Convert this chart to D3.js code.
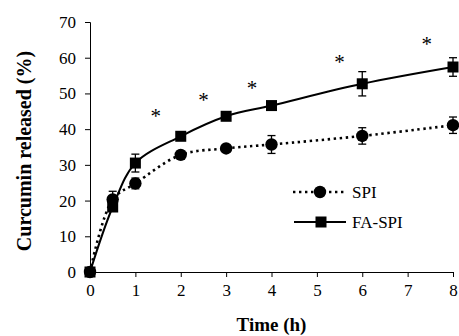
<!DOCTYPE html>
<html>
<head>
<meta charset="utf-8">
<script src="https://cdn.jsdelivr.net/npm/d3@7"></script>
<style>
    body { margin: 0; background: #fff; }
    svg text { font-family: "Liberation Serif", "Times New Roman", serif; fill: #000; }
</style>
</head>
<body>
<script>
// data
const times = [0, 0.5, 1, 2, 3, 4, 6, 8];
const spiValues = [0, 20.3, 24.8, 32.8, 34.6, 35.7, 38.1, 41.1];
const spiErrors = [0, 2.3, 1.5, 1, 1, 2.5, 2.3, 2.3];
const faValues = [0, 18.2, 30.5, 38, 43.6, 46.6, 52.7, 57.4];
const faErrors = [0, 1, 2.5, 1, 1, 1, 3.4, 2.6];
const starX = [1.45, 2.5, 3.57, 5.5, 7.42];
const starY = [44.7, 49.3, 52.6, 59.8, 64.9];
const xTicks = [0, 1, 2, 3, 4, 5, 6, 7, 8];
const yTicks = [0, 10, 20, 30, 40, 50, 60, 70];

let wSvg = 459;
let hSvg = 336;
let margin = { top: 22, right: 6, bottom: 64, left: 90 };

let svg = d3.select("body")
    .append("svg")
    .attr("width", wSvg)
    .attr("height", hSvg);

let x = d3.scaleLinear().domain([0, 8]).range([margin.left, wSvg - margin.right]);
let y = d3.scaleLinear().domain([0, 70]).range([hSvg - margin.bottom, margin.top]);

// axes
let xAxis = svg.append("g")
    .attr("transform", `translate(0,${y(0)})`)
    .call(d3.axisBottom(x).tickValues(xTicks).tickSize(5).tickPadding(7).tickFormat(d3.format("d")));
let yAxis = svg.append("g")
    .attr("transform", `translate(${x(0)},0)`)
    .call(d3.axisLeft(y).tickValues(yTicks).tickSize(5).tickPadding(9).tickFormat(d3.format("d")));

[xAxis, yAxis].forEach((a) => {
    a.attr("font-family", null);
    a.select(".domain").attr("stroke", "#000").attr("stroke-width", 1);
    a.selectAll(".tick line").attr("stroke", "#000");
    a.selectAll("text")
        .attr("fill", "#000")
        .style("font-size", "17px");
});

svg.append("text")
    .attr("x", (x(0) + x(8)) / 2)
    .attr("y", 331)
    .attr("text-anchor", "middle")
    .style("font-size", "19px")
    .style("font-weight", "bold")
    .text("Time (h)");

svg.append("text")
    .attr("transform", `translate(31,151) rotate(-90)`)
    .attr("text-anchor", "middle")
    .style("font-size", "20px")
    .style("font-weight", "bold")
    .text("Curcumin released (%)");

let spi = times.map((t, i) => ({ t: t, v: spiValues[i], e: spiErrors[i] }));
let fa = times.map((t, i) => ({ t: t, v: faValues[i], e: faErrors[i] }));

let line = d3.line()
    .x((d) => x(d.t))
    .y((d) => y(d.v))
    .curve(d3.curveCatmullRom.alpha(0.5));

// error bars
function errorBars(data) {
    let g = svg.append("g").attr("stroke", "#000").attr("stroke-width", 1.3);
    data.filter((d) => d.e > 0).forEach((d) => {
        g.append("line").attr("x1", x(d.t)).attr("x2", x(d.t)).attr("y1", y(d.v - d.e)).attr("y2", y(d.v + d.e));
        g.append("line").attr("x1", x(d.t) - 4).attr("x2", x(d.t) + 4).attr("y1", y(d.v - d.e)).attr("y2", y(d.v - d.e));
        g.append("line").attr("x1", x(d.t) - 4).attr("x2", x(d.t) + 4).attr("y1", y(d.v + d.e)).attr("y2", y(d.v + d.e));
    });
}
errorBars(fa);
errorBars(spi);

svg.append("path")
    .datum(fa)
    .attr("d", line)
    .attr("fill", "none")
    .attr("stroke", "#000")
    .attr("stroke-width", 2);

svg.append("path")
    .datum(spi)
    .attr("d", line)
    .attr("fill", "none")
    .attr("stroke", "#000")
    .attr("stroke-width", 2.6)
    .attr("stroke-dasharray", "2.4,3.6");

svg.append("g").selectAll("rect")
    .data(fa)
    .enter()
    .append("rect")
    .attr("x", (d) => x(d.t) - 5.5)
    .attr("y", (d) => y(d.v) - 5.5)
    .attr("width", 11)
    .attr("height", 11)
    .attr("fill", "#000");

svg.append("g").selectAll("circle")
    .data(spi)
    .enter()
    .append("circle")
    .attr("cx", (d) => x(d.t))
    .attr("cy", (d) => y(d.v))
    .attr("r", 6.2)
    .attr("fill", "#000");

// significance stars
svg.append("g").selectAll("text")
    .data(starX)
    .enter()
    .append("text")
    .attr("x", (d) => x(d))
    .attr("y", (d, i) => y(starY[i]) + 11)
    .attr("text-anchor", "middle")
    .style("font-size", "21px")
    .text("*");

// legend
let legend = svg.append("g");
legend.append("line")
    .attr("x1", 293).attr("x2", 346).attr("y1", 192).attr("y2", 192)
    .attr("stroke", "#000").attr("stroke-width", 2.6).attr("stroke-dasharray", "2.4,3.6");
legend.append("circle").attr("cx", 320).attr("cy", 192).attr("r", 6.2).attr("fill", "#000");
legend.append("text").attr("x", 352).attr("y", 198).style("font-size", "17px").text("SPI");

legend.append("line")
    .attr("x1", 294).attr("x2", 346).attr("y1", 222).attr("y2", 222)
    .attr("stroke", "#000").attr("stroke-width", 2);
legend.append("rect").attr("x", 315.5).attr("y", 216.5).attr("width", 11).attr("height", 11).attr("fill", "#000");
legend.append("text").attr("x", 352).attr("y", 228).style("font-size", "17px").text("FA-SPI");
</script>
</body>
</html>
